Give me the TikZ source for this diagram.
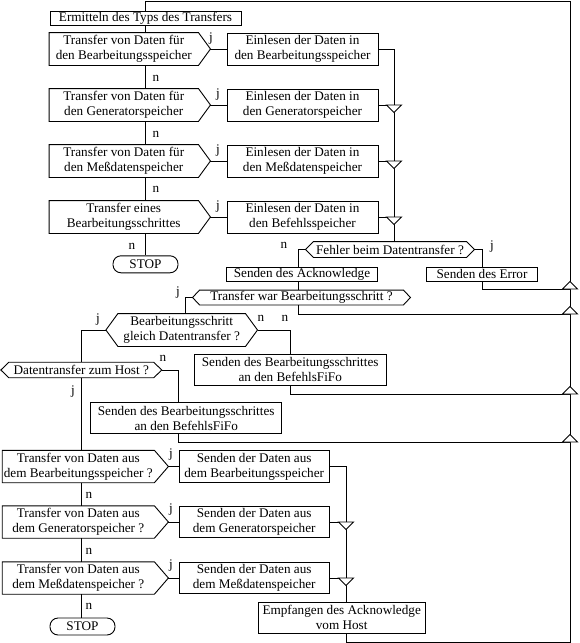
\documentclass[tikz,border=0pt]{standalone}
\usepackage{fontspec}
\setmainfont{Liberation Serif}
\usetikzlibrary{calc, positioning}

\newcommand{\flowfont}{\fontsize{13.2}{15}\selectfont}
\tikzset{
  box/.style={draw, rectangle, inner sep=0pt, align=center, font=\flowfont},
  query/.style={rectangle, inner sep=0pt, align=center, font=\flowfont},
  qleft/.style={query, minimum width=148.5pt, minimum height=32pt},
  qlow/.style={query, minimum width=151.3pt, minimum height=31.5pt},
  eright/.style={box, minimum width=151pt, minimum height=32pt},
  slow/.style={box, minimum width=150.3pt, minimum height=31.5pt},
  stopbox/.style={draw, rectangle, rounded corners=8pt, inner sep=0pt, minimum width=65pt, minimum height=17pt, font=\flowfont},
  yn/.style={inner sep=0pt, font=\flowfont},
  mergedn/.pic={\draw[fill=white] (-7.5,0) -- (7.5,0) -- (0,7.5) -- cycle;},
  mergeup/.pic={\draw[fill=white] (-7.5,0) -- (7.5,0) -- (0,-7.5) -- cycle;},
}

\begin{document}
\begin{tikzpicture}[x=1pt, y=-1pt, line width=0.9pt]
    \fill[white] (0,0) rectangle (579,643);
    \useasboundingbox (0,0) rectangle (579,643);

    % Empfang
    \node[box, minimum width=191pt, minimum height=14pt] (typ) at (145.5,18.5) {Ermitteln des Typs des Transfers};
    \node[qleft] (q1) at (123.75,49) {Transfer von Daten für\\den Bearbeitungsspeicher};
    \node[qleft] (q2) at (123.75,105) {Transfer von Daten für\\den Generatorspeicher};
    \node[qleft] (q3) at (123.75,161) {Transfer von Daten für\\den Meßdatenspeicher};
    \node[qleft] (q4) at (123.75,217) {Transfer eines\\Bearbeitungsschrittes};
    \node[eright] (e1) at (302.5,49) {Einlesen der Daten in\\den Bearbeitungsspeicher};
    \node[eright] (e2) at (302.5,105) {Einlesen der Daten in\\den Generatorspeicher};
    \node[eright] (e3) at (302.5,161) {Einlesen der Daten in\\den Meßdatenspeicher};
    \node[eright] (e4) at (302.5,217) {Einlesen der Daten in\\den Befehlsspeicher};
    \node[stopbox] (stop1) at (145.5,264.3) {STOP};

    % Quittung
    \node[query, minimum width=152pt, minimum height=15pt] (fehler) at (390,249.5) {Fehler beim Datentransfer ?};
    \node[box, minimum width=151pt, minimum height=14pt] (ack) at (302,274) {Senden des Acknowledge};
    \node[box, minimum width=111pt, minimum height=14pt] (err) at (482,274) {Senden des Error};
    \node[query, minimum width=203pt, minimum height=14pt] (warbs) at (301.5,297.5) {Transfer war Bearbeitungsschritt ?};
    \node[query, minimum width=126.7pt, minimum height=32pt] (gleich) at (181.7,330) {Bearbeitungsschritt\\gleich Datentransfer ?};
    \node[box, minimum width=191.7pt, minimum height=31pt] (fifoA) at (290.2,369.5) {Senden des Bearbeitungsschrittes\\an den BefehlsFiFo};
    \node[query, minimum width=144pt, minimum height=14.6pt] (host) at (81.3,370) {Datentransfer zum Host ?};
    \node[box, minimum width=191pt, minimum height=30.6pt] (fifoB) at (186.2,418) {Senden des Bearbeitungsschrittes\\an den BefehlsFiFo};

    % Senden
    \node[qlow] (q5) at (78.3,466.5) {Transfer von Daten aus\\dem Bearbeitungsspeicher ?};
    \node[qlow] (q6) at (78.3,522) {Transfer von Daten aus\\dem Generatorspeicher ?};
    \node[qlow] (q7) at (78.3,578) {Transfer von Daten aus\\dem Meßdatenspeicher ?};
    \node[slow] (s5) at (254.2,466.5) {Senden der Daten aus\\dem Bearbeitungsspeicher};
    \node[slow] (s6) at (254.2,522) {Senden der Daten aus\\dem Generatorspeicher};
    \node[slow] (s7) at (254.2,578) {Senden der Daten aus\\dem Meßdatenspeicher};
    \node[stopbox] (stop2) at (82.5,626.5) {STOP};
    \node[box, minimum width=166.7pt, minimum height=31pt] (empf) at (341.7,617.8) {Empfangen des Acknowledge\\vom Host};

    % Umrisse der Abfragen
    \foreach \q/\d in {q1/12,q2/12,q3/12,q4/12,q5/14,q6/14,q7/14}{
        \draw (\q.north west) -- (\q.north east) -- ([xshift=\d pt]\q.east) -- (\q.south east) -- (\q.south west) -- cycle;
        \coordinate (\q-tip) at ([xshift=\d pt]\q.east);
    }
    \foreach \h/\d in {fehler/8,warbs/7,gleich/12,host/8}{
        \draw (\h.north west) -- (\h.north east) -- ([xshift=\d pt]\h.east) -- (\h.south east)
            -- (\h.south west) -- ([xshift=-\d pt]\h.west) -- cycle;
        \coordinate (\h-r) at ([xshift=\d pt]\h.east);
        \coordinate (\h-l) at ([xshift=-\d pt]\h.west);
    }

    \coordinate (colA) at (394,0);  \coordinate (colB) at (346,0);
    \coordinate (colC) at (298,0);  \coordinate (colD) at (185,0);
    \coordinate (colE) at (178,0);
    \coordinate (topL) at (145.5,1); \coordinate (topR) at (570,1);
    \coordinate (bot) at (570,642);
    \coordinate (j1) at (570,289);  \coordinate (j2) at (570,314);
    \coordinate (j3) at (570,394);  \coordinate (j4) at (570,442);

    % Verbindungen
    \draw (empf.south -| colB) -- (colB |- bot) -- (bot) -- (topR) -- (topL) -- (typ.north);
    \draw (typ.south) -- (typ.south |- q1.north);
    \draw (q1.south -| typ) -- (q2.north -| typ);
    \draw (q2.south -| typ) -- (q3.north -| typ);
    \draw (q3.south -| typ) -- (q4.north -| typ);
    \draw (q4.south -| typ) -- (stop1.north);
    \foreach \i in {1,...,4}{ \draw (q\i-tip) -- (e\i.west); }
    \draw (e1.east) -- (e1.east -| colA) -- (fehler.north -| colA);
    \foreach \i in {2,3,4}{ \draw (e\i.east) -- (e\i.east -| colA); }

    \draw (fehler-l) -- (fehler-l -| colC) -- (ack.north -| colC);
    \draw (fehler-r) -- (fehler-r -| err) -- (err.north);
    \draw (err.south) -- (err.south |- j1) -- (j1);
    \draw (ack.south -| colC) -- (warbs.north -| colC);
    \draw (warbs.south -| colC) -- (colC |- j2) -- (j2);
    \draw (warbs-l) -- (warbs-l -| colD) -- (gleich.north -| colD);
    \draw (gleich-l) -- (gleich-l -| host) -- (host.north);
    \draw (gleich-r) -- (gleich-r -| fifoA) -- (fifoA.north);
    \draw (fifoA.south) -- (fifoA.south |- j3) -- (j3);
    \draw (host-r) -- (host-r -| colE) -- (fifoB.north -| colE);
    \draw (fifoB.south -| colE) -- (colE |- j4) -- (j4);

    \draw (host.south) -- (host.south |- q5.north);
    \draw (q5.south -| host) -- (q6.north -| host);
    \draw (q6.south -| host) -- (q7.north -| host);
    \draw (q7.south -| host) -- (stop2.north -| host);
    \foreach \i in {5,6,7}{ \draw (q\i-tip) -- (s\i.west); }
    \draw (s5.east) -- (s5.east -| colB) -- (empf.north -| colB);
    \foreach \i in {6,7}{ \draw (s\i.east) -- (s\i.east -| colB); }

    % Zusammenfuehrungen
    \foreach \i in {2,3,4}{ \pic at (e\i.east -| colA) {mergedn}; }
    \foreach \i in {6,7}{ \pic at (s\i.east -| colB) {mergedn}; }
    \foreach \k in {j1,j2,j3,j4}{ \pic at (\k) {mergeup}; }

    % j / n
    \node[yn] (y1) at (211,39) {j};
    \node[yn] (y2) at (218,95) {j};
    \node[yn] (y3) at (218,151) {j};
    \node[yn] (y4) at (218,207) {j};
    \node[yn] (n1) at (156,78) {n};
    \node[yn] (n2) at (156,134) {n};
    \node[yn] (n3) at (156,189) {n};
    \node[yn] (n4) at (132,246) {n};
    \node[yn] (n5) at (284,245) {n};
    \node[yn] (y5) at (492,247) {j};
    \node[yn] (y6) at (178,293) {j};
    \node[yn] (y7) at (98,320) {j};
    \node[yn] (n6) at (261,318) {n};
    \node[yn] (n7) at (285,318) {n};
    \node[yn] (n8) at (163,358) {n};
    \node[yn] (y8) at (73,392) {j};
    \node[yn] (y9) at (171,455) {j};
    \node[yn] (y10) at (171,510) {j};
    \node[yn] (y11) at (171,566) {j};
    \node[yn] (n9) at (89,495) {n};
    \node[yn] (n10) at (89,551) {n};
    \node[yn] (n11) at (89,606) {n};
\end{tikzpicture}
\end{document}
